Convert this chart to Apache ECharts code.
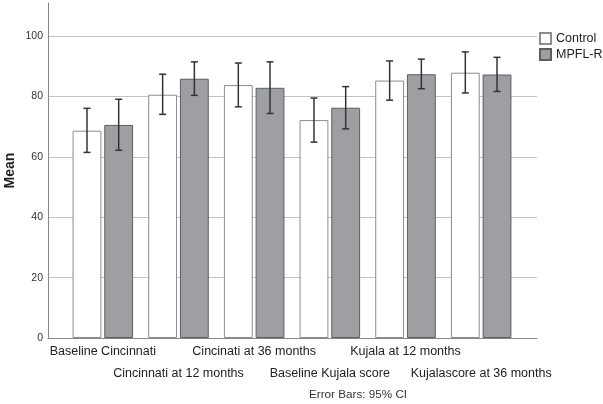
<!DOCTYPE html>
<html>
<head>
<meta charset="utf-8">
<script src="https://cdn.jsdelivr.net/npm/echarts@6/dist/echarts.min.js"></script>
<style>
  html, body { margin: 0; padding: 0; background: #fff; }
  #chart { width: 603px; height: 404px; }
</style>
</head>
<body>
<div id="chart"></div>
<script>
// values (means and 95% CI ends)
const categories = ['Baseline Cincinnati', 'Cincinnati at 12 months', 'Cincinati at 36 months',
  'Baseline Kujala score', 'Kujala at 12 months', 'Kujalascore at 36 months'];
const controlMean = [68.7, 80.6, 83.8, 72.2, 85.3, 87.9];
const controlLow  = [61.5, 74.1, 76.6, 64.9, 78.8, 81.2];
const controlHigh = [76.1, 87.4, 91.1, 79.5, 91.8, 94.8];
const mpflMean = [70.6, 85.9, 82.9, 76.3, 87.4, 87.3];
const mpflLow  = [62.2, 80.4, 74.4, 69.3, 82.6, 81.7];
const mpflHigh = [79.1, 91.5, 91.5, 83.3, 92.4, 93.0];
const yTicks = [0, 20, 40, 60, 80, 100];

const chart = echarts.init(document.getElementById('chart'));

const CAT_GAP = 0.2, BAR_GAP = 0.1;
const FONT = 'Liberation Sans, Arial, sans-serif';

function errorBars(side) {
  return function (params, api) {
    const x = api.value(0);
    const lo = api.coord([x, api.value(1)]);
    const hi = api.coord([x, api.value(2)]);
    const band = api.size([1, 0])[0];
    const barW = band * (1 - CAT_GAP) / (2 + BAR_GAP);
    const cx = lo[0] + side * barW * (1 + BAR_GAP) / 2;
    const cap = 3.5;
    const style = { stroke: '#333', lineWidth: 1.5 };
    return {
      type: 'group',
      children: [
        { type: 'line', shape: { x1: cx, y1: lo[1], x2: cx, y2: hi[1] }, style: style },
        { type: 'line', shape: { x1: cx - cap, y1: hi[1], x2: cx + cap, y2: hi[1] }, style: style },
        { type: 'line', shape: { x1: cx - cap, y1: lo[1], x2: cx + cap, y2: lo[1] }, style: style }
      ]
    };
  };
}

const option = {
  animation: false,
  textStyle: { fontFamily: FONT },
  // grid 0: frame, gridlines and y labels; grid 1: the bars, inset like SPSS does
  grid: [
    { left: 48, right: 66, top: 3, bottom: 66, outerBoundsMode: 'none' },
    { left: 65, right: 84, top: 3, bottom: 66, outerBoundsMode: 'none' }
  ],
  legend: {
    data: ['Control', 'MPFL-R'],
    orient: 'vertical',
    left: 539, top: 32, padding: 0,
    icon: 'rect',
    itemWidth: 11, itemHeight: 11, itemGap: 3,
    textStyle: { fontSize: 12.5, color: '#222' }
  },
  xAxis: [
    {
      gridIndex: 0, type: 'value', min: 0, max: 1,
      axisLine: { show: true, lineStyle: { color: '#888', width: 1 } },
      axisTick: { show: false }, axisLabel: { show: false }, splitLine: { show: false }
    },
    {
      gridIndex: 1, type: 'category', data: categories,
      axisTick: { show: false }, axisLine: { show: false },
      axisLabel: {
        interval: 0, margin: 3, lineHeight: 22, fontSize: 12.5, color: '#222',
        formatter: function (v, i) { return (i % 2 ? ' \n' : '') + v; }
      }
    }
  ],
  yAxis: [
    {
      gridIndex: 0, type: 'value',
      min: 0, max: 111, interval: 20,
      name: 'Mean', nameLocation: 'middle', nameGap: 31, nameMoveOverlap: false,
      nameTextStyle: { fontSize: 14, fontWeight: 'bold', color: '#222' },
      axisLine: { show: true, lineStyle: { color: '#888', width: 1 } },
      axisTick: { show: false },
      axisLabel: {
        fontSize: 10.5, color: '#333', margin: 5, showMaxLabel: false,
        formatter: function (v) { return yTicks.indexOf(v) >= 0 ? String(v) : ''; }
      },
      splitLine: { show: true, showMaxLine: false, lineStyle: { color: '#c4c4c4', width: 1 } }
    },
    { gridIndex: 1, type: 'value', min: 0, max: 111, show: false, splitLine: { show: false } }
  ],
  series: [
    {
      name: 'Control', type: 'bar', data: controlMean, xAxisIndex: 1, yAxisIndex: 1,
      barCategoryGap: CAT_GAP * 100 + '%', barGap: BAR_GAP * 100 + '%',
      itemStyle: { color: '#fff', borderColor: '#8c8c8c', borderWidth: 1 }
    },
    {
      name: 'MPFL-R', type: 'bar', data: mpflMean, xAxisIndex: 1, yAxisIndex: 1,
      barCategoryGap: CAT_GAP * 100 + '%', barGap: BAR_GAP * 100 + '%',
      itemStyle: { color: '#9e9fa3', borderColor: '#5e5e5e', borderWidth: 1 }
    },
    {
      type: 'custom', z: 5, xAxisIndex: 1, yAxisIndex: 1, renderItem: errorBars(-1),
      data: categories.map(function (c, i) { return [i, controlLow[i], controlHigh[i]]; })
    },
    {
      type: 'custom', z: 5, xAxisIndex: 1, yAxisIndex: 1, renderItem: errorBars(1),
      data: categories.map(function (c, i) { return [i, mpflLow[i], mpflHigh[i]]; })
    }
  ],
  graphic: [{
    type: 'text', left: 309, top: 389,
    style: { text: 'Error Bars: 95% CI', fontSize: 11.7, fill: '#333', fontFamily: FONT }
  }]
};

chart.setOption(option);
</script>
</body>
</html>
